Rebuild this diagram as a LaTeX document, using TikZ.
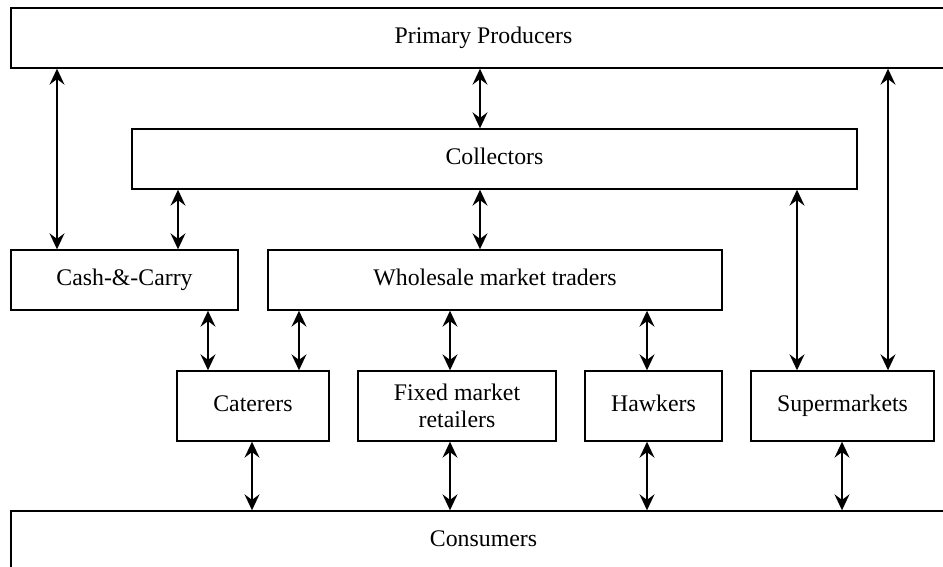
\documentclass[tikz,border=0pt]{standalone}
\usepackage{fontspec}
\setmainfont{Liberation Serif}
\usetikzlibrary{arrows.meta}

\begin{document}
\begin{tikzpicture}[x=0.5pt,y=-0.5pt,>={Stealth[length=8pt,width=7.5pt,inset=2.8pt]},
  font=\fontsize{11.9}{13.8}\selectfont,
  box/.style={draw,line width=0.7pt,inner sep=0pt,minimum height=30pt,
    text height=8.2pt,text depth=2.6pt},
  lowbox/.style={box,minimum height=35pt},
  twobox/.style={draw,line width=0.7pt,inner sep=0pt,align=center,minimum height=35pt},
  link/.style={<->,line width=0.75pt}]
  \useasboundingbox (0,0) rectangle (943,567);
  % --- boxes, top to bottom ---
  \node[box,minimum width=472.5pt] (pp)    at (483.5,38)  {Primary Producers};
  \node[box,minimum width=362.5pt] (coll)  at (494.5,159) {Collectors};
  \node[box,minimum width=113.5pt] (cash)  at (124.5,280) {Cash-\&-Carry};
  \node[box,minimum width=227pt]   (whole) at (495,280)   {Wholesale market traders};
  \node[lowbox,minimum width=76pt]   (cater) at (253,406)   {Caterers};
  \node[twobox,minimum width=99pt]   (fixed) at (457,406)   {Fixed market\\retailers};
  \node[lowbox,minimum width=68.5pt] (hawk)  at (653.5,406) {Hawkers};
  \node[lowbox,minimum width=91.5pt] (super) at (842.5,406) {Supermarkets};
  \node[box,minimum width=472.5pt] (cons)  at (483.5,541) {Consumers};
  % --- columns of the links ---
  \coordinate (xa) at (57,0);
  \coordinate (xb) at (178,0);
  \coordinate (xc) at (480,0);
  \coordinate (xd) at (797,0);
  \coordinate (xe) at (888,0);
  \coordinate (xf) at (208,0);
  \coordinate (xg) at (299,0);
  \coordinate (xh) at (450,0);
  \coordinate (xi) at (647,0);
  \coordinate (xj) at (252,0);
  \coordinate (xk) at (842,0);
  % --- links ---
  \draw[link] (pp.south -| xa) -- (cash.north -| xa);
  \draw[link] (pp.south -| xc) -- (coll.north -| xc);
  \draw[link] (pp.south -| xe) -- (super.north -| xe);
  \draw[link] (coll.south -| xb) -- (cash.north -| xb);
  \draw[link] (coll.south -| xc) -- (whole.north -| xc);
  \draw[link] (coll.south -| xd) -- (super.north -| xd);
  \draw[link] (cash.south -| xf) -- (cater.north -| xf);
  \draw[link] (whole.south -| xg) -- (cater.north -| xg);
  \draw[link] (whole.south -| xh) -- (fixed.north -| xh);
  \draw[link] (whole.south -| xi) -- (hawk.north -| xi);
  \draw[link] (cater.south -| xj) -- (cons.north -| xj);
  \draw[link] (fixed.south -| xh) -- (cons.north -| xh);
  \draw[link] (hawk.south -| xi) -- (cons.north -| xi);
  \draw[link] (super.south -| xk) -- (cons.north -| xk);
\end{tikzpicture}
\end{document}
